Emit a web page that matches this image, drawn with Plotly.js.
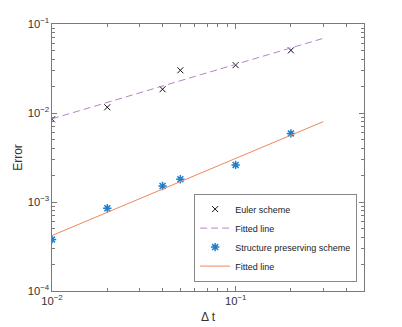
<!DOCTYPE html>
<html>
<head>
<meta charset="utf-8">
<script src="https://cdn.plot.ly/plotly-3.0.1.min.js"></script>
<style>
  html, body { margin: 0; padding: 0; background: #fff; }
  #chart { width: 402px; height: 327px; }
</style>
</head>
<body>
<div id="chart"></div>
<script>
// time steps
const dt = [0.01, 0.02, 0.04, 0.05, 0.1, 0.2];

// errors
const eulerErr = [0.0085, 0.0116, 0.0185, 0.0302, 0.0345, 0.0506];
const structErr = [0.00038, 0.00085, 0.00151, 0.0018, 0.00261, 0.0059];

// fitted lines (endpoints)
const fitDt = [0.01, 0.3];
const eulerFit = [0.0086, 0.069];
const structFit = [0.00042, 0.0080];

const axisBase = {
    type: 'log',
    showgrid: false,
    zeroline: false,
    showline: true,
    linecolor: '#7a7a7a',
    linewidth: 1,
    mirror: 'ticks',
    ticks: 'inside',
    ticklen: 5,
    tickcolor: '#7a7a7a',
    tickmode: 'linear',
    tick0: 0,
    dtick: 1,
    exponentformat: 'power',
    tickfont: { size: 9, color: '#333' },
    minor: { dtick: 'D1', ticks: 'inside', ticklen: 3, tickcolor: '#7a7a7a', showgrid: false },
};

const traces = [
    {
        x: dt, y: eulerErr,
        name: 'Euler scheme',
        mode: 'markers',
        marker: { symbol: 'x-thin-open', size: 6, color: '#111', line: { width: 1, color: '#111' } },
    },
    {
        x: fitDt, y: eulerFit,
        name: 'Fitted line',
        mode: 'lines',
        line: { color: '#b584c9', width: 1, dash: '7px,4px' },
    },
    {
        x: dt, y: structErr,
        name: 'Structure preserving scheme',
        mode: 'markers',
        marker: { symbol: 'asterisk-open', size: 7, color: '#1f7fcc', line: { width: 1.5, color: '#1f7fcc' } },
    },
    {
        x: fitDt, y: structFit,
        name: 'Fitted line',
        mode: 'lines',
        line: { color: '#f0865e', width: 1 },
    },
];

const layout = {
    width: 402,
    height: 327,
    margin: { l: 52, r: 38, t: 24, b: 36 },
    paper_bgcolor: '#fff',
    plot_bgcolor: '#fff',
    font: { family: 'Liberation Sans, Arial, sans-serif', color: '#333' },
    showlegend: true,
    legend: {
        x: 0.978, y: 0.2, xanchor: 'right', yanchor: 'middle',
        bgcolor: '#fff',
        bordercolor: '#888',
        borderwidth: 1,
        font: { size: 9, color: '#222' },
        tracegroupgap: 0,
    },
    xaxis: {
        ...axisBase,
        range: [-2, Math.log10(0.5)],
        title: { text: 'Δ t', font: { size: 12, color: '#333' }, standoff: 6 },
    },
    yaxis: {
        ...axisBase,
        range: [-4, -1],
        title: { text: 'Error', font: { size: 12, color: '#333' }, standoff: 2 },
    },
};

Plotly.newPlot('chart', traces, layout, { displayModeBar: false, staticPlot: true });
</script>
</body>
</html>
